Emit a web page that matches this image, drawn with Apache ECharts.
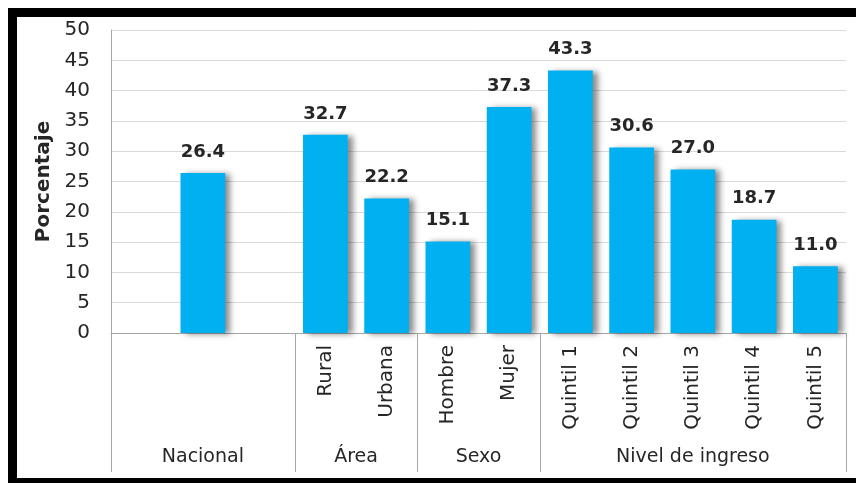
<!DOCTYPE html>
<html><head><meta charset="utf-8">
<script src="https://cdn.jsdelivr.net/npm/echarts@6/dist/echarts.min.js"></script>
<style>html,body{margin:0;padding:0;background:#fff}#c{width:856px;height:483px}</style>
</head><body><div id="c"></div>
<script>
const categories = ['', 'Nacional', '', 'Rural', 'Urbana', 'Hombre', 'Mujer', 'Quintil 1', 'Quintil 2', 'Quintil 3', 'Quintil 4', 'Quintil 5'];
const values = [null, 26.4, null, 32.7, 22.2, 15.1, 37.3, 43.3, 30.6, 27.0, 18.7, 11.0];
const groupNames = ['Nacional', 'Área', 'Sexo', 'Nivel de ingreso'];
const groupStarts = [0, 3, 5, 7];
const groupEnds = [2, 4, 6, 11];
const yName = 'Porcentaje';

const FONT = 'DejaVu Sans';
const chart = echarts.init(document.getElementById('c'), null, {renderer: 'canvas'});
chart.setOption({
  animation: false,
  backgroundColor: '#ffffff',
  grid: {left: 111, right: 10, top: 30, bottom: 150, containLabel: false},
  xAxis: {
    type: 'category',
    data: categories,
    boundaryGap: true,
    axisLine: {show: true, lineStyle: {color: '#a6a6a6', width: 1}},
    axisTick: {show: false},
    axisLabel: {
      rotate: 90, margin: 12, interval: 0,
      fontFamily: FONT, fontSize: 20, color: '#262626',
      formatter: v => (groupNames.indexOf(v) >= 0 ? '' : v)
    }
  },
  yAxis: {
    type: 'value', min: 0, max: 50, interval: 5,
    name: yName, nameLocation: 'middle', nameGap: 57,
    nameTextStyle: {fontFamily: FONT, fontSize: 20, fontWeight: 'bold', color: '#262626'},
    axisLine: {show: true, lineStyle: {color: '#a6a6a6', width: 1}},
    axisTick: {show: false},
    axisLabel: {margin: 21, fontFamily: FONT, fontSize: 20, color: '#262626'},
    splitLine: {show: true, lineStyle: {color: '#d9d9d9', width: 1}}
  },
  series: [{
    type: 'bar',
    data: values,
    barCategoryGap: '27%',
    itemStyle: {
      color: '#00b0f0',
      shadowColor: 'rgba(0,0,0,0.45)', shadowBlur: 6, shadowOffsetX: 5, shadowOffsetY: 1
    },
    label: {
      show: true, position: 'top', distance: 12,
      fontFamily: FONT, fontSize: 18, fontWeight: 'bold', color: '#262626',
      formatter: p => (p.value == null ? '' : Number(p.value).toFixed(1))
    }
  }]
});

function drawExtras() {
  const c0 = chart.convertToPixel({xAxisIndex: 0}, 0);
  const c1 = chart.convertToPixel({xAxisIndex: 0}, 1);
  const bw = c1 - c0;
  const yBase = chart.convertToPixel({yAxisIndex: 0}, 0);
  const els = [];
  const boundaries = groupStarts.map(s => c0 + (s - 0.5) * bw);
  boundaries.push(c0 + (groupEnds[groupEnds.length - 1] + 0.5) * bw);
  boundaries.forEach(x => {
    const xr = Math.round(x) + 0.5;
    els.push({type: 'line', shape: {x1: xr, y1: yBase, x2: xr, y2: 472},
      style: {stroke: '#a6a6a6', lineWidth: 1}, silent: true});
  });
  groupNames.forEach((g, i) => {
    const cx = c0 + ((groupStarts[i] + groupEnds[i]) / 2) * bw;
    els.push({type: 'text', x: cx, y: 457,
      style: {text: g, fontFamily: FONT, fontSize: 19, fill: '#262626', align: 'center', verticalAlign: 'middle'},
      silent: true});
  });
  // outer frame
  els.push({type: 'rect', shape: {x: 8, y: 8, width: 848, height: 9}, style: {fill: '#000'}, silent: true});
  els.push({type: 'rect', shape: {x: 8, y: 8, width: 9, height: 475}, style: {fill: '#000'}, silent: true});
  els.push({type: 'rect', shape: {x: 8, y: 478, width: 848, height: 5}, style: {fill: '#000'}, silent: true});
  chart.setOption({graphic: {elements: els}});
}
drawExtras();
</script>
</body></html>
